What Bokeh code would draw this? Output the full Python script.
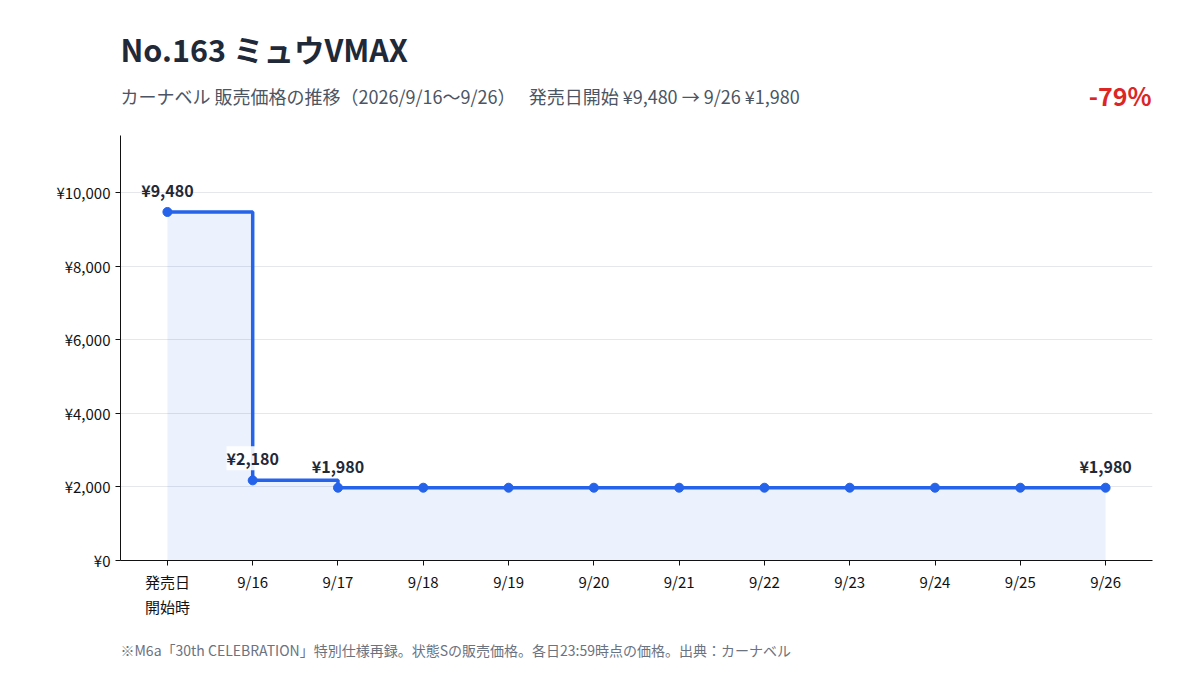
from bokeh.plotting import figure
from bokeh.models import Label, FixedTicker, Range1d
from bokeh.layouts import column
from bokeh.core.properties import value
from bokeh.embed import file_html
from bokeh.resources import INLINE

# data
dates = ["発売日\n開始時", "9/16", "9/17", "9/18", "9/19", "9/20", "9/21",
         "9/22", "9/23", "9/24", "9/25", "9/26"]
prices = [9480, 2180, 1980, 1980, 1980, 1980, 1980, 1980, 1980, 1980, 1980, 1980]
labelled = [0, 1, 2, 11]
y_ticks = [0, 2000, 4000, 6000, 8000, 10000]
title = "No.163 ミュウVMAX"
subtitle = "カーナベル 販売価格の推移（2026/9/16〜9/26）　 発売日開始 ¥9,480 → 9/26 ¥1,980"
change = "-79%"
note = "※M6a「30th CELEBRATION」特別仕様再録。状態Sの販売価格。各日23:59時点の価格。出典：カーナベル"

FONT = "Noto Sans CJK JP"
BLUE = "#2563eb"
W = 1200
xs = list(range(len(dates)))


# header / footer panels: their frames line up with the chart frame (120..1152)
def blank(height):
    f = figure(width=W, height=height, output_backend="svg", toolbar_location=None,
               x_range=Range1d(120, 1152), y_range=Range1d(height, 0),
               x_axis_type=None, y_axis_type=None, min_border=0)
    f.outline_line_color = None
    f.xgrid.grid_line_color = None
    f.ygrid.grid_line_color = None
    return f


head = blank(125)
head.text(x=[120], y=[48], text=[title], text_baseline="middle",
          text_font=value(FONT), text_font_size="30.5px", text_font_style="bold",
          text_color="#1f2937")
head.text(x=[120], y=[95], text=[subtitle], text_baseline="middle",
          text_font=value(FONT), text_font_size="18px", text_color="#4b5563")
head.text(x=[1151], y=[94], text=[change], text_align="right", text_baseline="middle",
          text_font=value(FONT), text_font_size="25px", text_font_style="bold",
          text_color="#dc2626")

# chart
p = figure(width=W, height=505, output_backend="svg", toolbar_location=None,
           x_range=Range1d(-0.55, 11.55), y_range=Range1d(0, 11560),
           min_border_left=120, min_border_right=48, min_border_top=10,
           min_border_bottom=70)
p.outline_line_color = None

p.varea_step(x=xs, y1=[0] * len(xs), y2=prices, step_mode="after",
             fill_color=BLUE, fill_alpha=0.09)
p.step(xs, prices, mode="after", line_color=BLUE, line_width=3.5)
p.scatter(xs, prices, size=9, color=BLUE)

p.xaxis.ticker = FixedTicker(ticks=xs)
p.xaxis.major_label_overrides = {i: d for i, d in enumerate(dates)}
p.yaxis.ticker = FixedTicker(ticks=y_ticks)
p.yaxis.major_label_overrides = {t: "¥{:,}".format(t) for t in y_ticks}
for ax in (p.xaxis, p.yaxis):
    ax.major_label_text_font = FONT
    ax.major_label_text_font_size = "15px"
    ax.major_label_text_color = "#111111"
    ax.axis_line_color = "#111111"
    ax.major_tick_line_color = "#111111"
    ax.major_tick_in = 0
    ax.major_tick_out = 5
    ax.minor_tick_line_color = None
p.xgrid.grid_line_color = None
p.ygrid.grid_line_color = "#e5e7eb"

for i in labelled:
    p.add_layout(Label(x=xs[i], y=prices[i], text="¥{:,}".format(prices[i]),
                       text_align="center", text_baseline="bottom", y_offset=10,
                       text_font=FONT, text_font_size="16px", text_font_style="bold",
                       text_color="#1f2937",
                       background_fill_color="white" if i == 1 else None,
                       background_fill_alpha=0.9))

foot = blank(45)
foot.text(x=[120], y=[19], text=[note], text_baseline="middle",
          text_font=value(FONT), text_font_size="14px", text_color="#6b7280")

layout = column(head, p, foot, spacing=0)
open("out.html", "w").write(file_html(layout, INLINE))
